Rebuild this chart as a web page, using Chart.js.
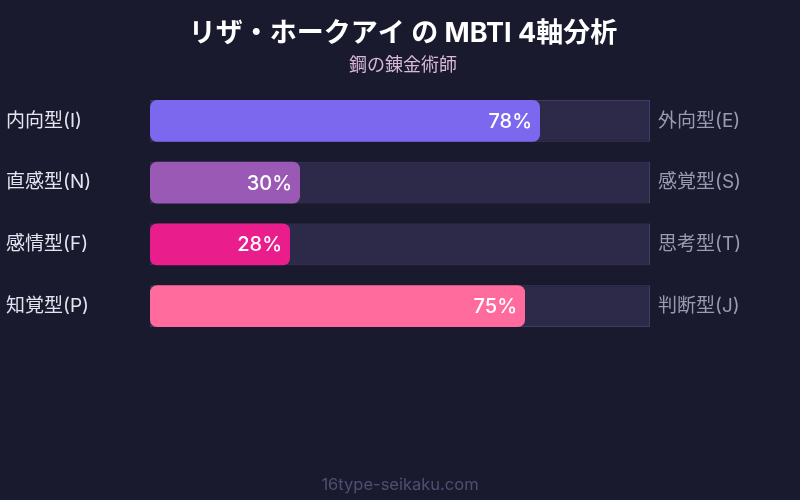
<!DOCTYPE html>
<html lang="ja">
<head>
<meta charset="utf-8">
<script src="https://cdn.jsdelivr.net/npm/chart.js@4/dist/chart.umd.min.js"></script>
<style>
  html, body { margin: 0; padding: 0; background: #1a1a2e; }
  #wrap { width: 800px; height: 500px; position: relative; }
</style>
</head>
<body>
<div id="wrap"><canvas id="canvas"></canvas></div>
<script>
const leftLabels = ['内向型(I)', '直感型(N)', '感情型(F)', '知覚型(P)'];
const rightLabels = ['外向型(E)', '感覚型(S)', '思考型(T)', '判断型(J)'];
const scores = [78, 30, 28, 75];
const trackMax = [100, 100, 100, 100];
const barColors = ['#7b68ee', '#9b59b6', '#e91e8c', '#ff6b9d'];

const FONT = "Inter, 'Noto Sans CJK JP', sans-serif";

const canvas = document.getElementById('canvas');
const ctx = canvas.getContext('2d');

// percent text inside the bar end + site name at the bottom
const labelPlugin = {
    id: 'labels',
    afterDatasetsDraw(chart) {
        const c = chart.ctx;
        const meta = chart.getDatasetMeta(0);
        c.save();
        c.fillStyle = '#ffffff';
        c.font = `500 20px ${FONT}`;
        c.textAlign = 'right';
        c.textBaseline = 'middle';
        meta.data.forEach((bar, i) => {
            c.fillText(scores[i] + '%', bar.x - 8, bar.y + 1);
        });
        c.restore();
    },
    afterDraw(chart) {
        const c = chart.ctx;
        c.save();
        c.fillStyle = '#4f4f72';
        c.font = `16.5px ${FONT}`;
        c.textAlign = 'center';
        c.textBaseline = 'middle';
        c.fillText('16type-seikaku.com', chart.width / 2, 485);
        c.restore();
    }
};

new Chart(ctx, {
    type: 'bar',
    data: {
        labels: leftLabels,
        datasets: [
            {
                data: scores,
                backgroundColor: barColors,
                borderRadius: 7,
                borderSkipped: false,
                grouped: false,
                order: 1,
                barPercentage: 0.68,
                categoryPercentage: 1
            },
            {
                data: trackMax,
                backgroundColor: '#2c2a48',
                borderColor: '#3e3c60',
                borderWidth: 1,
                grouped: false,
                order: 2,
                barPercentage: 0.68,
                categoryPercentage: 1
            }
        ]
    },
    options: {
        indexAxis: 'y',
        responsive: true,
        maintainAspectRatio: false,
        animation: false,
        layout: { padding: { top: 0, bottom: 163, left: 6, right: 0 } },
        scales: {
            x: { display: false, min: 0, max: 100 },
            y: {
                position: 'left',
                grid: { display: false },
                border: { display: false },
                ticks: {
                    color: '#e4e4f0',
                    font: { family: FONT, size: 19 },
                    crossAlign: 'far',
                    padding: 8
                },
                afterFit(scale) { scale.width = 144; }
            },
            y2: {
                type: 'category',
                labels: rightLabels,
                position: 'right',
                offset: true,
                grid: { display: false },
                border: { display: false },
                ticks: {
                    color: '#9a9ab2',
                    font: { family: FONT, size: 19 },
                    padding: 0
                },
                afterFit(scale) { scale.width = 150; }
            }
        },
        plugins: {
            legend: { display: false },
            tooltip: { enabled: false },
            title: {
                display: true,
                text: 'リザ・ホークアイ の MBTI 4軸分析',
                color: '#ffffff',
                font: { family: FONT, size: 27, weight: 'bold' },
                padding: { top: 18, bottom: 4 }
            },
            subtitle: {
                display: true,
                text: '鋼の錬金術師',
                color: '#d9b8dc',
                font: { family: FONT, size: 18 },
                padding: { top: 0, bottom: 14 }
            }
        }
    },
    plugins: [labelPlugin]
});
</script>
</body>
</html>
